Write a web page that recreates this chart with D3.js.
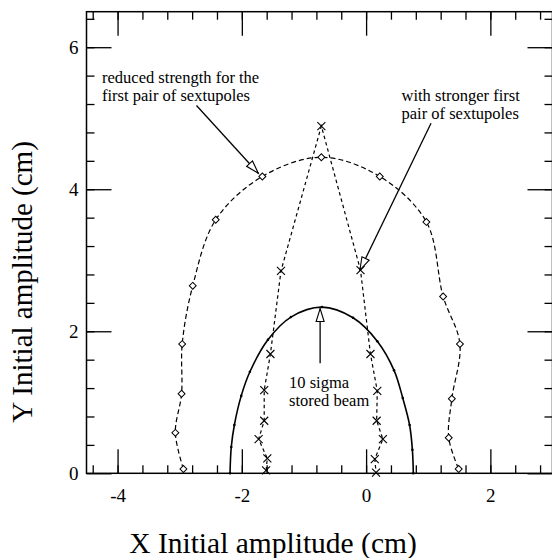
<meta charset="utf-8" />
<style>
	body { margin: 0; }
	svg { display: block; }
</style>
<svg width="552" height="558"></svg>
<script src="https://cdn.jsdelivr.net/npm/d3@7/dist/d3.min.js"></script>
<script>
	// axis ticks
	var xMajor = [-4, -2, 0, 2];
	var yMajor = [0, 2, 4, 6];
	var xMinor = d3.range(-4.4, 3, 0.4);
	var yMinor = d3.range(0.4, 6.5, 0.4);

	// 10 sigma stored beam (solid, small dots)
	var beamX = [-2.19, -2.17, -2.12, -2.01, -1.87, -1.58, -1.21, -0.71, -0.21, 0.18, 0.45, 0.59, 0.7, 0.745, 0.76];
	var beamY = [0, 0.37, 0.68, 1.09, 1.43, 1.88, 2.2, 2.34, 2.19, 1.86, 1.45, 1.06, 0.68, 0.33, 0];

	// reduced strength for the first pair (dashed, diamonds)
	var weakX = [-2.94, -3.07, -2.97, -2.96, -2.79, -2.42, -1.67, -0.72, 0.22, 0.97, 1.24, 1.51, 1.38, 1.33, 1.49];
	var weakY = [0.06, 0.57, 1.12, 1.82, 2.64, 3.57, 4.18, 4.45, 4.18, 3.54, 2.49, 1.82, 1.05, 0.5, 0.06];

	// stronger first pair (dashed, crosses)
	var strongX = [-1.61, -1.59, -1.73, -1.64, -1.64, -1.54, -1.37, -0.72, -0.09, 0.07, 0.18, 0.17, 0.27, 0.14, 0.16];
	var strongY = [0.04, 0.21, 0.48, 0.74, 1.17, 1.68, 2.85, 4.89, 2.86, 1.68, 1.16, 0.74, 0.48, 0.2, 0.01];

	// annotations (data units)
	var noteText = [
		['reduced strength for the', 'first pair of sextupoles'],
		['with stronger first', 'pair of sextupoles'],
		['10 sigma', 'stored beam']
	];
	var noteAt = [[-4.25, 5.5], [0.57, 5.244], [-1.24, 1.197]];
	var arrowFrom = [[-2.73, 5.18], [1.045, 4.93], [-0.74, 1.55]];
	var arrowTo = [[-1.735, 4.225], [-0.1, 2.86], [-0.74, 2.32]];

	var serif = '"Liberation Serif", "Times New Roman", serif';

	var svg = d3.select('svg'),
		plotLeft = 86.5,
		plotRight = 552.5,
		plotTop = 11.7,
		plotBottom = 473.3;

	var x = d3.scaleLinear().domain([-4.5, 3]).range([plotLeft, plotRight]);
	var y = d3.scaleLinear().domain([0, 6.5]).range([plotBottom, plotTop]);

	function zip(xs, ys) {
		return xs.map((v, i) => [v, ys[i]]);
	}

	// axes: ticks point inward on all four sides
	function addAxis(axis, tx, ty, size, values, labels) {
		var g = svg
			.append('g')
			.attr('transform', 'translate(' + tx + ',' + ty + ')')
			.call(
				axis
					.tickValues(values)
					.tickSize(-size)
					.tickSizeOuter(0)
					.tickFormat(labels ? d => String(d) : '')
			);
		g.select('.domain').remove();
		g.attr('font-family', serif).attr('font-size', 19);
		g.selectAll('line').attr('stroke', '#000').attr('stroke-width', 1.3);
		g.selectAll('text').attr('fill', '#000');
		return g;
	}

	addAxis(d3.axisBottom(x).tickPadding(15), 0, plotBottom, 24, xMajor, true);
	addAxis(d3.axisBottom(x), 0, plotBottom, 8, xMinor, false);
	addAxis(d3.axisTop(x), 0, plotTop, 24, xMajor, false);
	addAxis(d3.axisTop(x), 0, plotTop, 8, xMinor, false);
	addAxis(d3.axisLeft(y).tickPadding(8), plotLeft, 0, 25, yMajor, true);
	addAxis(d3.axisLeft(y), plotLeft, 0, 8, yMinor, false);
	addAxis(d3.axisRight(y), plotRight, 0, 25, yMajor, false);
	addAxis(d3.axisRight(y), plotRight, 0, 8, yMinor, false);

	svg.append('rect')
		.attr('x', plotLeft)
		.attr('y', plotTop)
		.attr('width', plotRight - plotLeft)
		.attr('height', plotBottom - plotTop)
		.attr('fill', 'none')
		.attr('stroke', '#000')
		.attr('stroke-width', 1.5);

	var line = d3
		.line()
		.x(d => x(d[0]))
		.y(d => y(d[1]))
		.curve(d3.curveCatmullRom);

	var straight = d3
		.line()
		.x(d => x(d[0]))
		.y(d => y(d[1]));

	var beam = zip(beamX, beamY),
		weak = zip(weakX, weakY),
		strong = zip(strongX, strongY);

	svg.append('path')
		.datum(beam)
		.attr('d', line)
		.attr('fill', 'none')
		.attr('stroke', '#000')
		.attr('stroke-width', 1.6);

	svg.append('path')
		.datum(weak)
		.attr('d', line)
		.attr('fill', 'none')
		.attr('stroke', '#000')
		.attr('stroke-width', 1.2)
		.attr('stroke-dasharray', '5,3');

	svg.append('path')
		.datum(strong)
		.attr('d', straight)
		.attr('fill', 'none')
		.attr('stroke', '#000')
		.attr('stroke-width', 1.2)
		.attr('stroke-dasharray', '3.5,3');

	svg.append('g')
		.selectAll('circle')
		.data(beam)
		.join('circle')
		.attr('cx', d => x(d[0]))
		.attr('cy', d => y(d[1]))
		.attr('r', 1.3)
		.attr('fill', '#000');

	svg.append('g')
		.selectAll('path')
		.data(weak)
		.join('path')
		.attr('d', d3.symbol(d3.symbolSquare, 24))
		.attr('transform', d => 'translate(' + x(d[0]) + ',' + y(d[1]) + ') rotate(45)')
		.attr('fill', '#fff')
		.attr('stroke', '#000')
		.attr('stroke-width', 1);

	svg.append('g')
		.selectAll('path')
		.data(strong)
		.join('path')
		.attr('d', 'M-4,-4L4,4M4,-4L-4,4')
		.attr('transform', d => 'translate(' + x(d[0]) + ',' + y(d[1]) + ')')
		.attr('fill', 'none')
		.attr('stroke', '#000')
		.attr('stroke-width', 1.1);

	// hollow arrowheads
	svg.append('defs')
		.append('marker')
		.attr('id', 'head')
		.attr('markerUnits', 'userSpaceOnUse')
		.attr('viewBox', '-14 -6 16 12')
		.attr('markerWidth', 16)
		.attr('markerHeight', 12)
		.attr('refX', 0)
		.attr('refY', 0)
		.attr('orient', 'auto')
		.append('path')
		.attr('d', 'M0,0L-13,-4L-13,4Z')
		.attr('fill', '#fff')
		.attr('stroke', '#000')
		.attr('stroke-width', 1.1);

	svg.append('g')
		.selectAll('line')
		.data(arrowFrom)
		.join('line')
		.attr('x1', d => x(d[0]))
		.attr('y1', d => y(d[1]))
		.attr('x2', (d, i) => x(arrowTo[i][0]))
		.attr('y2', (d, i) => y(arrowTo[i][1]))
		.attr('stroke', '#000')
		.attr('stroke-width', 1.3)
		.attr('marker-end', 'url(#head)');

	svg.append('g')
		.selectAll('text')
		.data(noteText)
		.join('text')
		.attr('x', (d, i) => x(noteAt[i][0]))
		.attr('y', (d, i) => y(noteAt[i][1]))
		.style('font-family', serif)
		.style('font-size', '16.5px')
		.selectAll('tspan')
		.data(d => d)
		.join('tspan')
		.attr('x', function () {
			return this.parentNode.getAttribute('x');
		})
		.attr('dy', (d, i) => (i ? 18 : 0))
		.text(d => d);

	svg.append('text')
		.attr('x', 273)
		.attr('y', 553)
		.attr('text-anchor', 'middle')
		.style('font-family', serif)
		.style('font-size', '29.5px')
		.text('X Initial amplitude (cm)');

	svg.append('text')
		.attr('transform', 'translate(32,282) rotate(-90)')
		.attr('text-anchor', 'middle')
		.style('font-family', serif)
		.style('font-size', '29px')
		.text('Y Initial amplitude (cm)');
</script>
